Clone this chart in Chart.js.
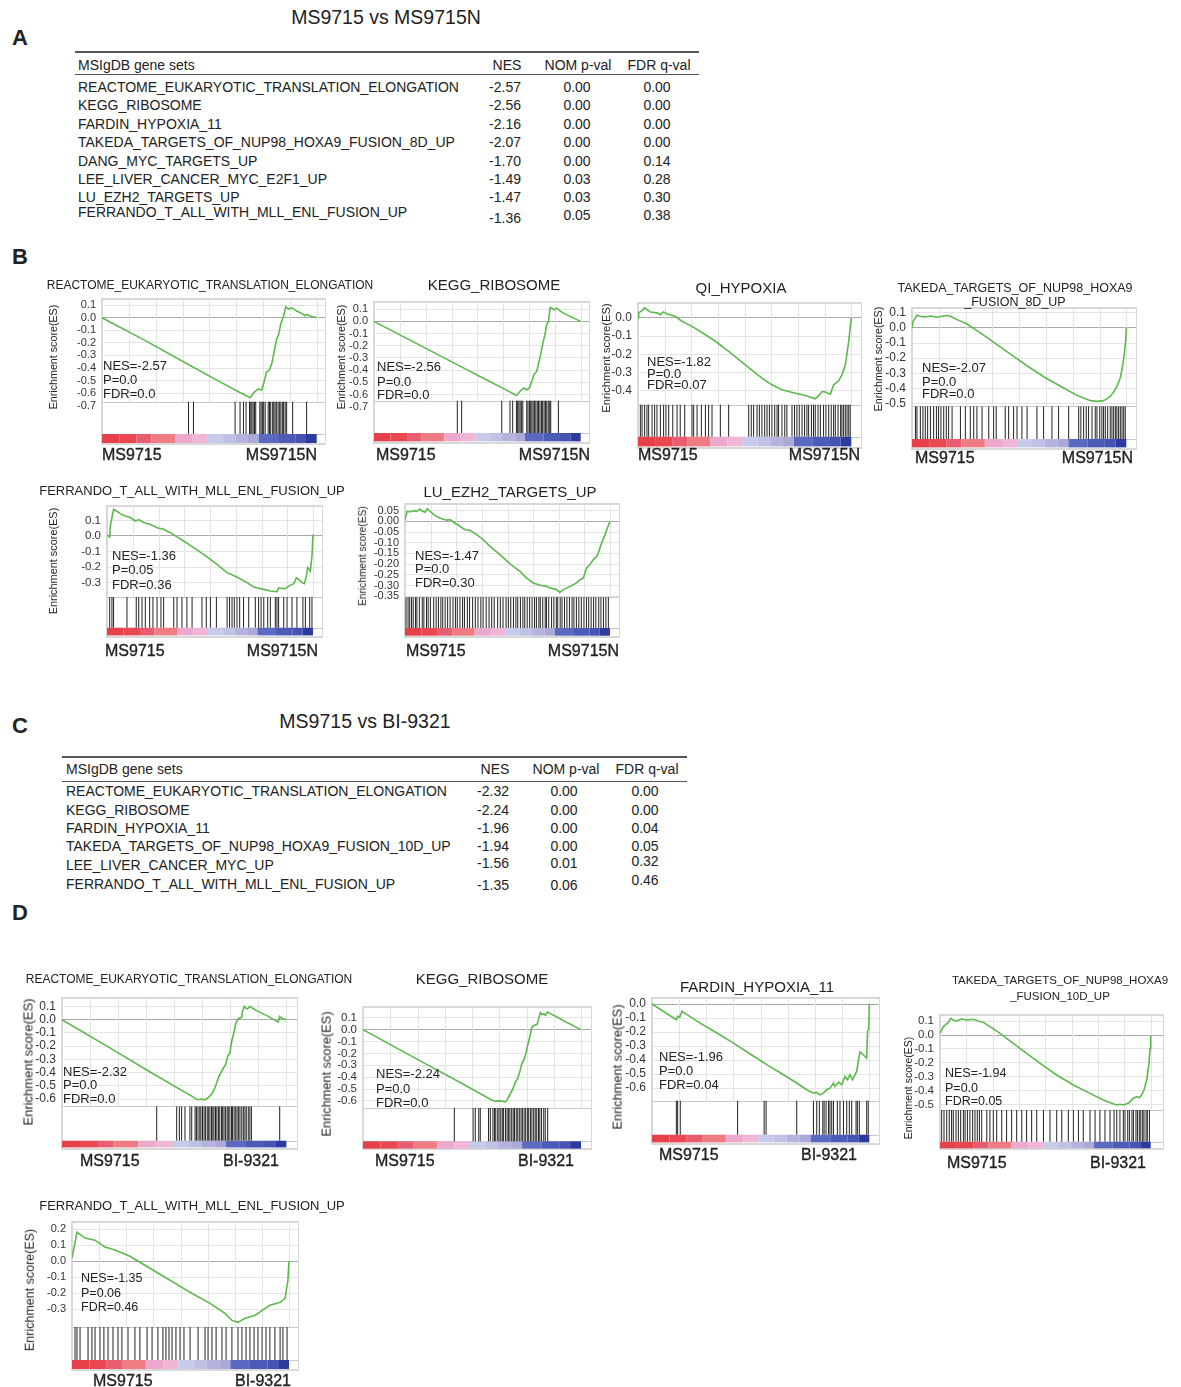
<!DOCTYPE html>
<html>
<head>
<meta charset="utf-8">
<title>GSEA MS9715</title>
<script src="https://cdn.jsdelivr.net/npm/chart.js@4.4.1/dist/chart.umd.min.js"></script>
<style>
  html, body { margin: 0; padding: 0; background: #fff; }
  #fig { position: relative; width: 1181px; height: 1387px; overflow: hidden;
         font-family: "Liberation Sans", Arial, Helvetica, sans-serif; color: #222; }
  .t { position: absolute; white-space: nowrap; line-height: 1; }
  .rule { position: absolute; background: #555; }
  canvas { position: absolute; }
</style>
</head>
<body>
<div id="fig"></div>
<script>
// ---------- tables ----------
const tableASets = ['REACTOME_EUKARYOTIC_TRANSLATION_ELONGATION', 'KEGG_RIBOSOME', 'FARDIN_HYPOXIA_11',
  'TAKEDA_TARGETS_OF_NUP98_HOXA9_FUSION_8D_UP', 'DANG_MYC_TARGETS_UP', 'LEE_LIVER_CANCER_MYC_E2F1_UP',
  'LU_EZH2_TARGETS_UP', 'FERRANDO_T_ALL_WITH_MLL_ENL_FUSION_UP'];
const tableANes = [-2.57, -2.56, -2.16, -2.07, -1.70, -1.49, -1.47, -1.36];
const tableAP = [0.00, 0.00, 0.00, 0.00, 0.00, 0.03, 0.03, 0.05];
const tableAFdr = [0.00, 0.00, 0.00, 0.00, 0.14, 0.28, 0.30, 0.38];

const tableCSets = ['REACTOME_EUKARYOTIC_TRANSLATION_ELONGATION', 'KEGG_RIBOSOME', 'FARDIN_HYPOXIA_11',
  'TAKEDA_TARGETS_OF_NUP98_HOXA9_FUSION_10D_UP', 'LEE_LIVER_CANCER_MYC_UP', 'FERRANDO_T_ALL_WITH_MLL_ENL_FUSION_UP'];
const tableCNes = [-2.32, -2.24, -1.96, -1.94, -1.56, -1.35];
const tableCP = [0.00, 0.00, 0.00, 0.00, 0.01, 0.06];
const tableCFdr = [0.00, 0.00, 0.04, 0.05, 0.32, 0.46];

// ---------- running enrichment score curves [rank %, ES] ----------
const b1Curve = [[0,0],[20,-0.18],[40,-0.37],[55,-0.51],[62,-0.575],[69,-0.636],[70.5,-0.601],[72.1,-0.575],[72.9,-0.567],[74.4,-0.575],[75.5,-0.509],[76.7,-0.429],[78,-0.416],[79.1,-0.363],[80.2,-0.27],[81.4,-0.164],[82.2,-0.138],[83.3,-0.045],[84.5,0.008],[85.6,0.087],[86.8,0.069],[88.4,0.079],[90.7,0.053],[93,0.034],[94.6,0.016],[95.3,0.026],[96.9,0.013],[100,0]];
const b2Curve = [[0,0],[20,-0.176],[40,-0.352],[55,-0.484],[62,-0.545],[69,-0.607],[70.6,-0.574],[71.5,-0.56],[72.3,-0.546],[73.9,-0.56],[75.2,-0.546],[76.3,-0.492],[77.4,-0.437],[78.7,-0.41],[79.5,-0.355],[80.6,-0.273],[81.9,-0.164],[82.7,-0.109],[83.5,-0.027],[84.4,0],[85.2,0.115],[86,0.109],[87.1,0.096],[88.4,0.109],[90,0.087],[91.6,0.068],[94.8,0.041],[100,0]];
const b3Curve = [[0,0],[0.3,0.028],[1.9,0.04],[3.1,0.055],[5.8,0.033],[8.9,0.028],[10.5,0.018],[12,0.033],[13.6,0.022],[17.5,0.009],[20.6,-0.018],[25.3,-0.046],[31.6,-0.092],[36.3,-0.128],[42.5,-0.183],[50.3,-0.257],[58.1,-0.33],[62.8,-0.367],[67.5,-0.394],[73.8,-0.413],[78.4,-0.426],[83.1,-0.444],[84.7,-0.426],[86.3,-0.404],[87.8,-0.407],[90.2,-0.418],[91.7,-0.367],[94.1,-0.345],[95.6,-0.312],[97.2,-0.257],[98.8,-0.128],[100,0]];
const b4Curve = [[0,0],[0.5,0.044],[1.6,0.066],[2.3,0.084],[3.9,0.077],[6.2,0.073],[8.6,0.079],[11.7,0.071],[14,0.077],[16.3,0.082],[17.9,0.077],[21,0.055],[25.7,0.026],[31.9,-0.033],[39.7,-0.11],[47.4,-0.188],[55.2,-0.265],[63,-0.336],[70.8,-0.397],[77,-0.446],[80.1,-0.464],[83.2,-0.481],[86.3,-0.486],[89.4,-0.481],[91,-0.468],[92.5,-0.453],[94.1,-0.424],[95.6,-0.386],[97.2,-0.331],[98.4,-0.243],[99.2,-0.155],[99.7,-0.088],[100,0]];
const b5Curve = [[0,0.006],[1.3,-0.006],[1.6,0.064],[2.4,0.118],[3.2,0.171],[4.5,0.16],[6.5,0.143],[8.9,0.128],[11.3,0.118],[13.8,0.096],[15.4,0.105],[17.8,0.086],[21,0.075],[24.3,0.053],[27.5,0.043],[30.7,0.021],[34,-0.006],[37.2,-0.032],[42.1,-0.075],[46.9,-0.118],[53.4,-0.182],[58.3,-0.235],[63.1,-0.263],[68,-0.299],[71.2,-0.327],[76.1,-0.342],[79.3,-0.353],[82.5,-0.357],[83.3,-0.332],[85,-0.336],[86.6,-0.338],[88.2,-0.321],[90.6,-0.306],[91.9,-0.267],[93,-0.278],[94.7,-0.299],[95.8,-0.306],[96.8,-0.257],[97.4,-0.203],[98.7,-0.225],[99.5,-0.128],[100,0.011]];
const b6Curve = [[0,0.008],[0.5,0.028],[1.1,0.047],[2.4,0.044],[4.1,0.05],[5.7,0.047],[7.3,0.058],[8.6,0.047],[9.8,0.042],[10.9,0.059],[12.2,0.047],[13.8,0.034],[15.4,0.023],[17.9,0.012],[20.3,0.005],[22,0.008],[23.6,-0.003],[26.8,-0.023],[29.3,-0.039],[31.7,-0.042],[35,-0.062],[38.2,-0.086],[41.5,-0.117],[46.3,-0.156],[51.2,-0.199],[56.1,-0.234],[59.3,-0.265],[62.6,-0.288],[65.9,-0.299],[69.1,-0.304],[70.7,-0.312],[74,-0.319],[75.6,-0.332],[77.2,-0.319],[80.5,-0.304],[83.7,-0.288],[85.4,-0.273],[87,-0.265],[87.8,-0.241],[88.6,-0.218],[90.2,-0.202],[91.9,-0.179],[93.5,-0.164],[94.3,-0.148],[95.9,-0.101],[97.6,-0.062],[98.7,-0.031],[100,0]];
const d1Curve = [[0,0],[20,-0.2],[40,-0.403],[59.3,-0.592],[60.4,-0.605],[62.2,-0.6],[63.7,-0.605],[64.9,-0.592],[66.4,-0.567],[67.4,-0.542],[68.1,-0.516],[68.9,-0.479],[69.9,-0.428],[71.1,-0.39],[71.9,-0.365],[72.9,-0.34],[73.8,-0.277],[74.8,-0.252],[75.6,-0.164],[76.7,-0.088],[77.5,-0.025],[78.5,0.008],[80,0.018],[80.4,0.063],[81.2,0.101],[81.8,0.088],[82.7,0.083],[83.7,0.101],[84.7,0.088],[87.4,0.063],[91.9,0.025],[96.3,-0.018],[97,0.025],[97.8,0.013],[100,0]];
const d2Curve = [[0,0],[29.4,-0.294],[44.6,-0.445],[59.2,-0.594],[60.7,-0.602],[62.2,-0.599],[63.8,-0.602],[65.3,-0.608],[66.4,-0.58],[67.6,-0.538],[68.8,-0.496],[69.9,-0.44],[70.9,-0.412],[71.9,-0.356],[72.9,-0.286],[74,-0.244],[74.9,-0.188],[75.5,-0.132],[76.5,-0.062],[77.5,0.022],[78.6,0.036],[79.8,0.042],[80.6,0.092],[81.3,0.143],[82.1,0.126],[82.9,0.134],[83.6,0.12],[84.7,0.148],[85.9,0.134],[89,0.106],[93.6,0.059],[100,0]];
const d3Curve = [[0,0],[11.2,-0.112],[11.8,-0.088],[12.7,-0.095],[13.8,-0.052],[16.1,-0.076],[22.2,-0.136],[29.9,-0.207],[37.5,-0.279],[39.8,-0.302],[45.2,-0.357],[52.8,-0.433],[60.5,-0.505],[66.6,-0.564],[71.2,-0.612],[74.3,-0.636],[75.8,-0.631],[77.3,-0.648],[78.9,-0.636],[80.4,-0.612],[81.9,-0.6],[83.5,-0.564],[84.2,-0.588],[85.8,-0.557],[87.3,-0.576],[88.8,-0.517],[89.9,-0.54],[91.1,-0.505],[92.3,-0.54],[93.4,-0.505],[94.2,-0.481],[94.9,-0.41],[95.7,-0.343],[97.2,-0.362],[98.8,-0.386],[99.2,-0.195],[99.7,-0.183],[100,0]];
const d4Curve = [[0,0.012],[0.8,0.036],[1.6,0.06],[2.8,0.076],[4,0.09],[5.1,0.119],[6.3,0.107],[7.9,0.1],[10.3,0.114],[12.7,0.107],[15.8,0.112],[18.2,0.1],[20.6,0.09],[23.7,0.06],[28.5,0.012],[34.8,-0.06],[41.1,-0.131],[47.5,-0.202],[55.4,-0.286],[63.3,-0.357],[71.2,-0.417],[77.5,-0.464],[81.5,-0.488],[83.9,-0.5],[85.4,-0.495],[87,-0.5],[89.4,-0.488],[90.5,-0.471],[91.8,-0.452],[93.4,-0.44],[94.6,-0.448],[95.7,-0.429],[96.8,-0.393],[98.1,-0.321],[99.1,-0.214],[99.7,-0.095],[100,0]];
const d5Curve = [[0,0.019],[2.3,0.181],[6,0.144],[10.6,0.131],[15.2,0.088],[19.8,0.069],[26.7,0.031],[35.9,-0.044],[45.2,-0.119],[54.4,-0.194],[63.6,-0.263],[70.5,-0.325],[73.7,-0.369],[76.5,-0.381],[79.7,-0.356],[84.3,-0.338],[87.6,-0.306],[91.2,-0.275],[95.9,-0.256],[98.2,-0.231],[99.5,-0.119],[100,0]];

// ---------- gene set hits (rank %) ----------
const b1Hits = [40.3,42.6,62.0,64.3,65.9,67.1,68.7,69.3,69.8,70.4,71.0,71.6,73.5,74.1,74.7,75.3,76.0,77.4,78.0,78.6,79.5,80.0,80.6,81.2,82.0,82.6,83.3,84.0,84.6,85.3,86.0,88.8,95.3];
const b2Hits = [40.3,42.4,61.8,65.8,67.1,68.9,69.5,70.1,70.7,71.3,72.0,73.9,74.5,75.2,75.8,76.4,77.0,77.7,78.3,79.0,79.6,80.3,81.0,81.6,82.3,83.0,83.6,84.3,85.0,85.5,89.2];
const b3Hits = [1.1,1.9,3.1,4.2,5.0,6.6,7.8,8.9,10.5,12.0,13.1,14.4,16.3,18.3,19.8,21.9,25.3,26.1,27.7,29.7,31.6,33.1,34.7,38.6,42.5,51.9,53.1,54.2,55.8,56.9,58.1,59.4,60.5,61.6,62.8,64.1,65.2,65.9,67.5,68.8,69.8,72.2,73.4,74.5,75.6,76.9,78.1,79.2,80.0,81.3,82.3,83.1,84.4,85.5,87.0,88.1,89.4,90.6,91.7,92.5,93.8,95.0,95.6,96.4,97.2,98.0,98.8,99.5];
const b4Hits = [1.6,2.3,3.9,5.1,6.2,7.3,8.6,10.1,11.4,12.4,13.5,14.8,16.0,17.1,18.7,22.6,24.9,27.2,28.8,30.3,32.7,35.8,38.1,39.3,43.5,45.1,47.4,49.0,51.3,53.7,58.3,61.4,65.3,68.4,73.1,77.8,78.8,80.1,81.3,82.4,84.0,85.5,86.3,87.6,88.6,89.4,90.2,91.3,92.5,93.3,94.1,94.9,95.6,96.4,97.2,98.0,98.8,99.5];
const b5Hits = [1.3,2.4,3.2,9.7,14.2,15.4,17.0,18.6,20.7,22.3,24.3,26.2,27.5,32.4,34.0,36.4,38.8,41.3,46.1,48.2,50.2,53.1,58.3,59.5,60.7,61.8,63.1,64.4,66.3,68.8,72.0,73.6,74.8,76.1,78.0,79.3,81.7,82.5,83.3,85.8,87.4,89.8,92.2,95.1,96.3,98.4,99.5];
const b6Hits = [0.5,1.5,2.3,3.2,4.0,5.1,5.8,7.0,8.4,9.2,10.5,11.3,12.4,14.0,15.2,16.3,17.5,18.4,19.6,20.8,22.0,23.4,24.6,25.5,26.8,28.1,29.0,30.4,31.5,33.0,34.3,35.6,37.0,38.1,39.6,41.0,42.3,43.5,45.2,46.5,47.8,49.3,50.4,51.6,52.9,54.1,55.0,56.3,57.5,58.4,59.6,60.8,62.0,63.2,64.1,65.3,66.0,67.2,68.4,69.0,70.1,71.5,72.6,73.8,74.5,75.7,76.6,77.8,79.0,80.2,81.5,82.4,83.6,84.8,86.0,87.3,88.5,89.6,90.8,92.0,93.1,94.5,95.6,96.8,98.0,99.2];
const d1Hits = [42.2,51.1,52.3,53.3,54.8,57.0,57.8,59.3,59.9,60.6,61.4,61.9,62.6,63.3,63.9,64.7,65.2,65.9,66.6,67.2,67.7,68.4,69.0,69.7,70.3,71.1,71.6,72.2,72.9,73.6,74.1,74.8,75.5,76.0,76.7,77.4,78.0,78.7,79.3,80.1,80.8,81.5,82.1,83.0,83.7,84.4,97.0];
const d2Hits = [41.9,50.5,51.5,53.1,53.8,57.6,58.4,59.6,60.3,60.9,61.8,62.4,63.2,63.9,64.5,65.4,66.1,66.8,67.4,68.2,68.9,69.5,70.3,71.0,71.7,72.5,73.1,73.9,74.6,75.4,76.0,76.8,77.5,78.3,79.0,79.7,80.5,81.1,81.9,82.9,83.6,84.7];
const d3Hits = [11.2,11.8,13.0,39.4,51.6,52.5,66.6,74.3,75.8,77.0,78.6,79.2,80.1,81.2,81.9,82.7,83.5,85.3,86.5,88.1,89.6,90.8,91.9,93.9,94.5,95.4,98.8,99.5];
const d4Hits = [0.8,1.9,3.2,4.4,5.5,6.3,7.6,8.7,9.8,11.1,11.9,13.0,14.2,15.5,16.6,17.7,18.7,19.8,22.2,23.7,25.3,26.9,29.3,31.6,34.0,36.4,38.8,41.1,43.5,45.9,49.1,52.2,55.4,57.8,60.9,63.3,65.7,68.0,71.2,73.6,75.9,78.3,80.7,82.6,83.9,85.4,87.0,87.8,89.1,89.9,91.1,91.8,93.0,93.7,94.6,95.3,96.2,96.8,97.8,98.4,99.4];
const d5Hits = [1.4,2.3,3.7,7.4,9.2,10.6,12.9,14.7,16.6,18.9,21.2,23.0,25.8,29.0,31.3,34.6,36.9,39.6,41.9,43.3,44.7,46.1,47.9,49.8,51.6,54.4,58.1,61.3,62.7,64.5,66.4,69.1,71.0,73.7,76.5,78.3,80.2,82.0,83.9,85.7,87.6,89.4,91.2,93.5,95.9,97.2,99.1];

// ---------- y-axis tick labels ----------
const ticks07 = [0.1, 0, -0.1, -0.2, -0.3, -0.4, -0.5, -0.6, -0.7];
const ticks06 = [0.1, 0, -0.1, -0.2, -0.3, -0.4, -0.5, -0.6];
const ticksQi = [0, -0.1, -0.2, -0.3, -0.4];
const ticks05 = [0.1, 0, -0.1, -0.2, -0.3, -0.4, -0.5];
const ticksFerB = [0.1, 0, -0.1, -0.2, -0.3];
const ticksLu = [0.05, 0, -0.05, -0.1, -0.15, -0.2, -0.25, -0.3, -0.35];
const ticksFardin = [0, -0.1, -0.2, -0.3, -0.4, -0.5, -0.6];
const ticksFerD = [0.2, 0.1, 0, -0.1, -0.2, -0.3];

// ---------- stats shown in each plot ----------
const bStats = [['-2.57','0.0','0.0'], ['-2.56','0.0','0.0'], ['-1.82','0.0','0.07'],
                ['-2.07','0.0','0.0'], ['-1.36','0.05','0.36'], ['-1.47','0.0','0.30']];
const dStats = [['-2.32','0.0','0.0'], ['-2.24','0.0','0.0'], ['-1.96','0.0','0.04'],
                ['-1.94','0.0','0.05'], ['-1.35','0.06','0.46']];

// ranked list colour bar
const rankStops = [0, 8, 16, 23, 34, 42, 49, 56, 62, 68, 73, 82, 90, 95, 100];
const rankColors = ['#e8404a', '#ea4851', '#e95d73', '#f07c83', '#eca9cd', '#efb7d5', '#c8cae9',
                    '#c0c2e5', '#b4b3dd', '#aba9d7', '#5b69c1', '#4d5bb8', '#4653b2', '#2d3ba1'];

// ---------- layout (pixels) ----------
const FONT = '"Liberation Sans", Arial, Helvetica, sans-serif';
const panels = [
  { curve: b1Curve, hits: b1Hits, ticks: ticks07, dec: 1, tickSize: 11, stats: bStats[0], groups: ['MS9715', 'MS9715N'],
    title: ['REACTOME_EUKARYOTIC_TRANSLATION_ELONGATION'], tx: 210, ty: [285], ts: 12,
    L: 101.7, E: 316.7, R: 326, T: 299, esB: 401.7, hB: 434, gB: 443, esMin: -0.668, esMax: 0.149,
    yl: [53, 357, 10.7], st: [103, [365, 379, 393], 13], lab: [102, 317, 455] },
  { curve: b2Curve, hits: b2Hits, ticks: ticks07, dec: 1, tickSize: 11, stats: bStats[1], groups: ['MS9715', 'MS9715N'],
    title: ['KEGG_RIBOSOME'], tx: 494, ty: [284], ts: 15,
    L: 374, E: 580.7, R: 590, T: 302.3, esB: 401, hB: 433.3, gB: 441.7, esMin: -0.65, esMax: 0.159,
    yl: [341, 357, 10.7], st: [377, [366, 381, 394], 13], lab: [376, 590, 455] },
  { curve: b3Curve, hits: b3Hits, ticks: ticksQi, dec: 1, tickSize: 12, stats: bStats[2], groups: ['MS9715', 'MS9715N'],
    title: ['QI_HYPOXIA'], tx: 741, ty: [287], ts: 15,
    L: 637.7, E: 851, R: 861.7, T: 303.3, esB: 405, hB: 437, gB: 446.7, esMin: -0.476, esMax: 0.082,
    yl: [607, 358, 11.2], st: [647, [361, 373, 384], 13], lab: [638, 860, 455] },
  { curve: b4Curve, hits: b4Hits, ticks: ticks05, dec: 1, tickSize: 12, stats: bStats[3], groups: ['MS9715', 'MS9715N'],
    title: ['TAKEDA_TARGETS_OF_NUP98_HOXA9', '_FUSION_8D_UP'], tx: 1015, ty: [288, 302], ts: 12.5,
    L: 911.7, E: 1126, R: 1136.7, T: 308.3, esB: 406.7, hB: 439.3, gB: 447.7, esMin: -0.519, esMax: 0.132,
    yl: [878, 359, 10.7], st: [922, [367, 381, 393], 13], lab: [915, 1133, 458] },
  { curve: b5Curve, hits: b5Hits, ticks: ticksFerB, dec: 1, tickSize: 11.5, stats: bStats[4], groups: ['MS9715', 'MS9715N'],
    title: ['FERRANDO_T_ALL_WITH_MLL_ENL_FUSION_UP'], tx: 192, ty: [490], ts: 13,
    L: 106.7, E: 312.7, R: 322.7, T: 506.3, esB: 597.3, hB: 628, gB: 635.7, esMin: -0.391, esMax: 0.192,
    yl: [53, 561, 10.9], st: [112, [555, 569, 584], 13], lab: [105, 318, 651] },
  { curve: b6Curve, hits: b6Hits, ticks: ticksLu, dec: 2, tickSize: 11, stats: bStats[5], groups: ['MS9715', 'MS9715N'],
    title: ['LU_EZH2_TARGETS_UP'], tx: 510, ty: [491], ts: 15,
    L: 405, E: 610, R: 620, T: 504, esB: 597.3, hB: 628, gB: 635.7, esMin: -0.355, esMax: 0.081,
    yl: [363, 556, 10.2], st: [415, [555, 568, 582], 13], lab: [406, 619, 651] },
  { curve: d1Curve, hits: d1Hits, ticks: ticks06, dec: 1, tickSize: 12, stats: dStats[0], groups: ['MS9715', 'BI-9321'],
    title: ['REACTOME_EUKARYOTIC_TRANSLATION_ELONGATION'], tx: 189, ty: [979], ts: 12,
    L: 61.7, E: 286.7, R: 298.3, T: 998.3, esB: 1106.7, hB: 1141, gB: 1147.7, esMin: -0.655, esMax: 0.164,
    yl: [28, 1062, 13], st: [63, [1071, 1084, 1098], 13], lab: [80, 279, 1161] },
  { curve: d2Curve, hits: d2Hits, ticks: ticks06, dec: 1, tickSize: 11.5, stats: dStats[1], groups: ['MS9715', 'BI-9321'],
    title: ['KEGG_RIBOSOME'], tx: 482, ty: [978], ts: 15,
    L: 362.7, E: 580.7, R: 591.7, T: 1006.7, esB: 1107.7, hB: 1141, gB: 1148.3, esMin: -0.659, esMax: 0.19,
    yl: [327, 1074, 12.8], st: [376, [1073, 1088, 1102], 13], lab: [375, 574, 1161] },
  { curve: d3Curve, hits: d3Hits, ticks: ticksFardin, dec: 1, tickSize: 12, stats: dStats[2], groups: ['MS9715', 'BI-9321'],
    title: ['FARDIN_HYPOXIA_11'], tx: 757, ty: [986], ts: 15,
    L: 651.7, E: 869.3, R: 880, T: 998.3, esB: 1101, hB: 1135, gB: 1142.7, esMin: -0.69, esMax: 0.043,
    yl: [618, 1067, 12.8], st: [659, [1056, 1070, 1084], 13], lab: [659, 857, 1155] },
  { curve: d4Curve, hits: d4Hits, ticks: ticks05, dec: 1, tickSize: 11.5, stats: dStats[3], groups: ['MS9715', 'BI-9321'],
    title: ['TAKEDA_TARGETS_OF_NUP98_HOXA9', '_FUSION_10D_UP'], tx: 1060, ty: [981, 997], ts: 11.5,
    L: 940, E: 1150.7, R: 1164, T: 1015, esB: 1110, hB: 1141.7, gB: 1148.3, esMin: -0.536, esMax: 0.143,
    yl: [908, 1088, 10.5], st: [945, [1073, 1088, 1101], 12.5], lab: [947, 1146, 1163] },
  { curve: d5Curve, hits: d5Hits, ticks: ticksFerD, dec: 1, tickSize: 11, stats: dStats[4], groups: ['MS9715', 'BI-9321'],
    title: ['FERRANDO_T_ALL_WITH_MLL_ENL_FUSION_UP'], tx: 192, ty: [1205], ts: 13,
    L: 72, E: 289, R: 299, T: 1222, esB: 1327, hB: 1360, gB: 1369, esMin: -0.41, esMax: 0.244,
    yl: [30, 1290, 12.5], st: [81, [1278, 1293, 1307], 12.5], lab: [93, 291, 1381] }
];

const fig = document.getElementById('fig');

function txt(s, x, y, size, opts) {
  opts = opts || {};
  const d = document.createElement('div');
  d.className = 't';
  d.textContent = s;
  d.style.left = x + 'px';
  d.style.top = y + 'px';
  d.style.fontSize = size + 'px';
  let tx = '0';
  if (opts.align === 'center') tx = '-50%';
  else if (opts.align === 'right') tx = '-100%';
  d.style.transform = 'translate(' + tx + ', -50%)' + (opts.rot ? ' rotate(-90deg)' : '');
  if (opts.bold) d.style.fontWeight = 'bold';
  if (opts.heavy) d.style.webkitTextStroke = '0.35px #222';
  fig.appendChild(d);
}

function rule(x, y, w, h) {
  const d = document.createElement('div');
  d.className = 'rule';
  d.style.left = x + 'px'; d.style.top = y + 'px';
  d.style.width = w + 'px'; d.style.height = h + 'px';
  fig.appendChild(d);
}

// ---------- tables ----------
function drawTable(t) {
  txt(t.title, t.titleX, t.titleY, 19.5, { align: 'center' });
  rule(t.x0, t.ruleY, t.x1 - t.x0, 2);
  rule(t.x0, t.lineY, t.x1 - t.x0, 1);
  txt('MSIgDB gene sets', t.nameX, t.headY, 14);
  txt('NES', t.hNes, t.headY, 14, { align: 'center' });
  txt('NOM p-val', t.hP, t.headY, 14, { align: 'center' });
  txt('FDR q-val', t.hFdr, t.headY, 14, { align: 'center' });
  t.sets.forEach(function (s, i) {
    txt(s, t.nameX, t.nameY[i], 14);
    txt(t.nes[i].toFixed(2), t.cNes, t.nesY[i], 14, { align: 'center' });
    txt(t.p[i].toFixed(2), t.cP, t.pY[i], 14, { align: 'center' });
    txt(t.fdr[i].toFixed(2), t.cFdr, t.fdrY[i], 14, { align: 'center' });
  });
}

drawTable({ title: 'MS9715 vs MS9715N', titleX: 386, titleY: 18, x0: 75, x1: 699, ruleY: 51, lineY: 74, headY: 65,
  nameX: 78, hNes: 507, hP: 578, hFdr: 659, cNes: 505, cP: 577, cFdr: 657,
  sets: tableASets, nes: tableANes, p: tableAP, fdr: tableAFdr,
  nameY: [87, 105, 124, 142, 161, 179, 197, 212], nesY: [87, 105, 124, 142, 161, 179, 197, 218],
  pY: [87, 105, 124, 142, 161, 179, 197, 215], fdrY: [87, 105, 124, 142, 161, 179, 197, 215] });

drawTable({ title: 'MS9715 vs BI-9321', titleX: 365, titleY: 722, x0: 62, x1: 687, ruleY: 756, lineY: 781, headY: 769,
  nameX: 66, hNes: 495, hP: 566, hFdr: 647, cNes: 493, cP: 564, cFdr: 645,
  sets: tableCSets, nes: tableCNes, p: tableCP, fdr: tableCFdr,
  nameY: [791, 810, 828, 846, 865, 884], nesY: [791, 810, 828, 846, 863, 885],
  pY: [791, 810, 828, 846, 863, 885], fdrY: [791, 810, 828, 846, 861, 880] });

[['A', 38], ['B', 257], ['C', 726], ['D', 913]].forEach(function (l) {
  txt(l[0], 20, l[1], 22, { align: 'center', bold: true });
});

// ---------- GSEA plots ----------
const framePlugin = {
  id: 'gseaFrame',
  beforeDatasetsDraw(chart, args, o) {
    const ctx = chart.ctx, a = chart.chartArea;
    const x = chart.scales.x, y = chart.scales.y;
    const yEs = Math.round(y.getPixelForValue(o.esMin)) + 0.5;
    const yHit = Math.round(y.getPixelForValue(o.hitsLow)) + 0.5;
    ctx.save();
    ctx.lineWidth = 1;
    ctx.strokeStyle = '#e4e4e4';
    ctx.beginPath();
    for (let v = o.gridStep; v < x.max - 1; v += o.gridStep) {
      const px = Math.round(x.getPixelForValue(v)) + 0.5;
      ctx.moveTo(px, a.top);
      ctx.lineTo(px, yEs);
    }
    ctx.stroke();
    ctx.strokeStyle = '#c8c8c8';
    ctx.beginPath();
    ctx.moveTo(a.left, yEs); ctx.lineTo(a.right, yEs);
    ctx.moveTo(a.left, yHit); ctx.lineTo(a.right, yHit);
    ctx.stroke();
    ctx.lineWidth = 2;
    ctx.strokeStyle = '#d8d8d8';
    ctx.strokeRect(a.left, a.top, a.width, a.height);
    ctx.restore();
  }
};

function drawPanel(p) {
  const axisW = 48, pad = 16;
  const left = Math.round(p.L) - axisW;
  const top = Math.round(p.T);
  const bottom = Math.round(p.gB) + 1;
  const width = Math.round(p.R) - left;
  const unit = (p.esMax - p.esMin) / (p.esB - p.T);
  const hitsLow = p.esMin - (p.hB - p.esB) * unit;
  const gradLow = hitsLow - (p.gB - p.hB) * unit;
  const axisMin = p.esMax - (bottom - top) * unit;
  const xMax = 100 * (p.R - p.L) / (p.E - p.L);

  const cv = document.createElement('canvas');
  cv.width = width;
  cv.height = bottom - top + 2 * pad;
  cv.style.left = left + 'px';
  cv.style.top = (top - pad) + 'px';
  fig.appendChild(cv);

  new Chart(cv, {
    type: 'line',
    data: {
      datasets: [
        { data: p.curve.map(function (c) { return { x: c[0], y: c[1] }; }),
          borderColor: '#5cb94c', borderWidth: 1.6, pointRadius: 0, fill: false },
        { data: p.hits.map(function (h) { return { x: h, y: (p.esMin + hitsLow) / 2 }; }),
          showLine: false, pointStyle: 'line', pointRotation: 90,
          pointRadius: (p.hB - p.esB) / 2, pointBorderColor: '#222', pointBorderWidth: 1 },
        { data: rankStops.map(function (s) { return { x: s, y: (hitsLow + gradLow) / 2 }; }),
          borderWidth: p.gB - p.hB, borderCapStyle: 'butt', pointRadius: 0, fill: false,
          segment: { borderColor: function (c) { return rankColors[c.p0DataIndex]; } } }
      ]
    },
    options: {
      responsive: false,
      animation: false,
      events: [],
      devicePixelRatio: 1,
      layout: { autoPadding: false, padding: { top: pad, bottom: pad, left: 0, right: 0 } },
      plugins: {
        legend: { display: false },
        tooltip: { enabled: false },
        gseaFrame: { esMin: p.esMin, hitsLow: hitsLow, gridStep: 12.5 }
      },
      scales: {
        x: { type: 'linear', min: 0, max: xMax,
             ticks: { display: false }, grid: { display: false }, border: { display: false },
             afterFit: function (s) { s.height = 0; } },
        y: { type: 'linear', min: axisMin, max: p.esMax,
             afterBuildTicks: function (s) { s.ticks = p.ticks.map(function (v) { return { value: v }; }); },
             afterFit: function (s) { s.width = axisW; },
             ticks: { autoSkip: false, padding: 6, color: '#333',
                      font: { family: FONT, size: p.tickSize },
                      callback: function (v) { return v.toFixed(p.dec); } },
             grid: { drawTicks: false, lineWidth: 1,
                     color: function (c) {
                       const v = c.tick.value;
                       if (Math.abs(v) < 1e-9) return '#a8a8a8';
                       if (v < p.esMin) return 'rgba(0,0,0,0)';
                       return '#e4e4e4';
                     } },
             border: { display: false } }
      }
    },
    plugins: [framePlugin]
  });

  p.title.forEach(function (s, i) { txt(s, p.tx, p.ty[i], p.ts, { align: 'center' }); });
  txt('Enrichment score(ES)', p.yl[0], p.yl[1], p.yl[2], { align: 'center', rot: true });
  txt('NES=' + p.stats[0], p.st[0], p.st[1][0], p.st[2]);
  txt('P=' + p.stats[1], p.st[0], p.st[1][1], p.st[2]);
  txt('FDR=' + p.stats[2], p.st[0], p.st[1][2], p.st[2]);
  txt(p.groups[0], p.lab[0], p.lab[2], 16, { heavy: true });
  txt(p.groups[1], p.lab[1], p.lab[2], 16, { align: 'right', heavy: true });
}

panels.forEach(drawPanel);
</script>
</body>
</html>
